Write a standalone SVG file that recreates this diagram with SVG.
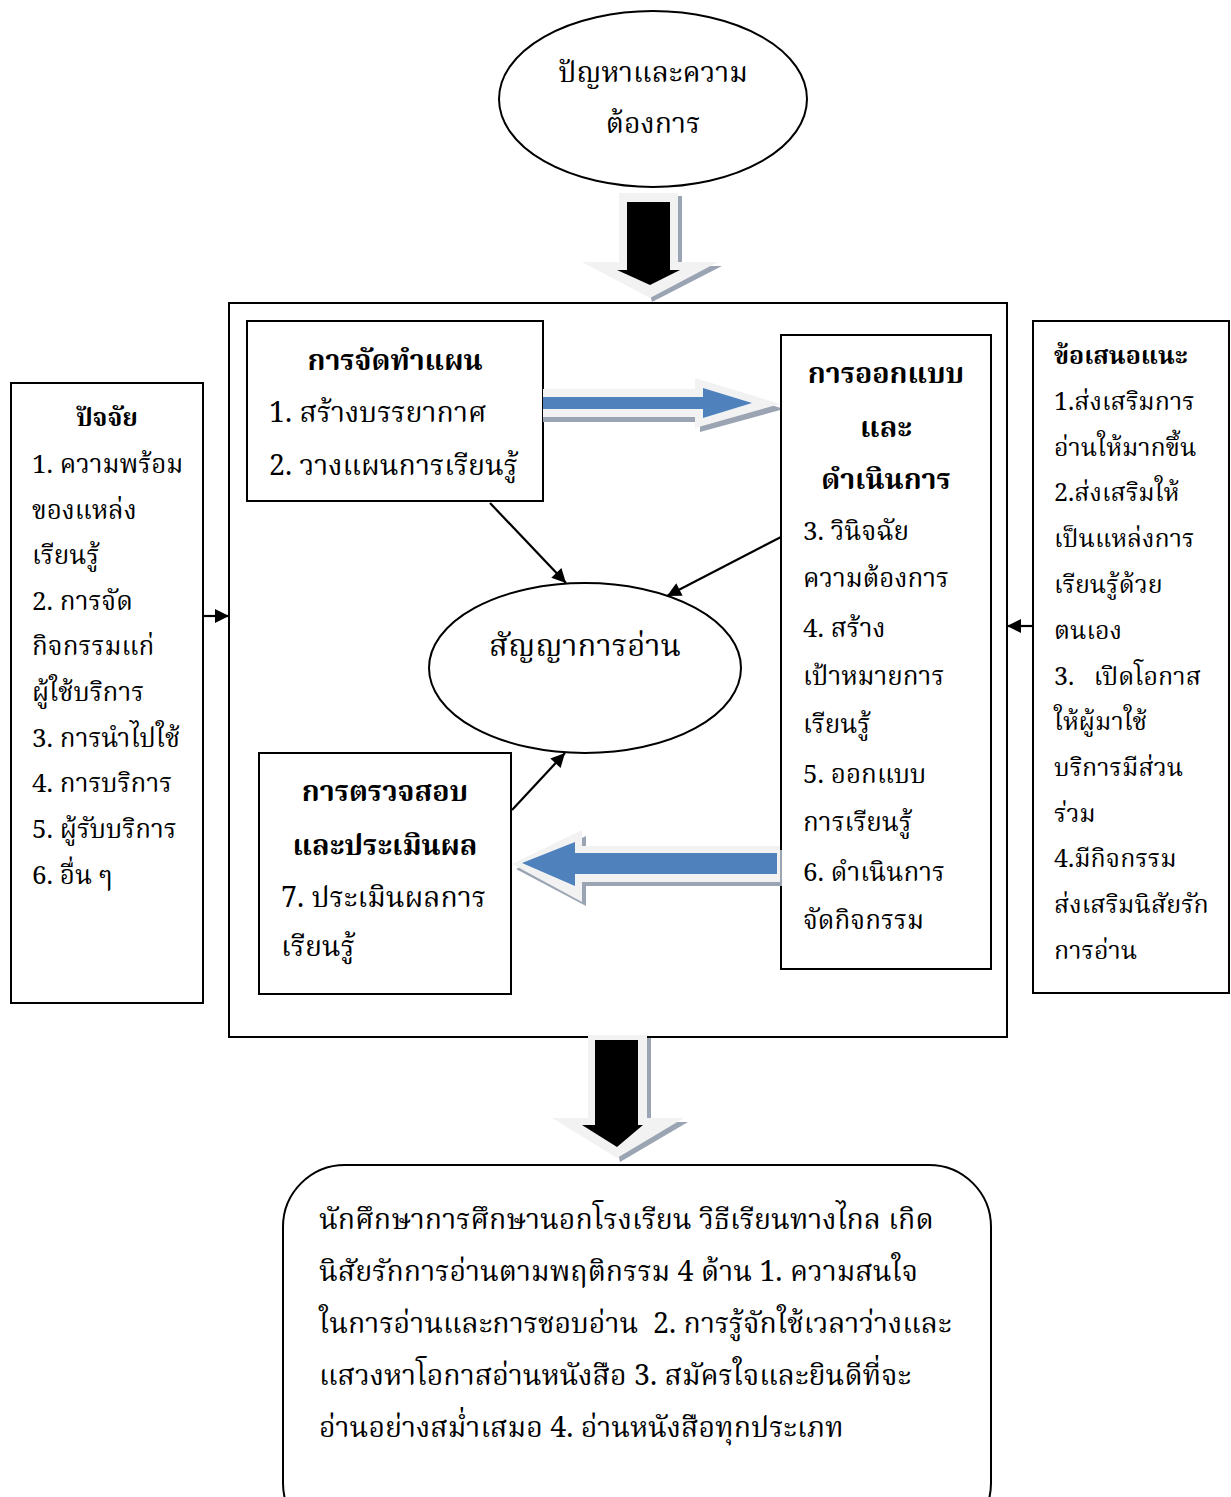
<svg xmlns="http://www.w3.org/2000/svg" width="1231" height="1497" viewBox="0 0 1231 1497">
<style>
.b{fill:#fff;stroke:#000;stroke-width:2}
.t{font-family:"Noto Serif Thai","Noto Sans Thai","Liberation Serif",serif;font-size:25px;fill:#000}
.l{font-size:28.5px}
.s{font-size:26px}
.h{font-weight:bold}
.m{text-anchor:middle}
.c{stroke:#000;stroke-width:2.2;fill:none}
.ol{fill:#f2f2f2}
.sh{fill:#9aa4b3}
.bl{fill:#4f81bd}
</style>
<defs>
<marker id="ah" viewBox="0 0 10 10" refX="10" refY="5" markerWidth="16" markerHeight="14" markerUnits="userSpaceOnUse" orient="auto"><path d="M0,0 L10,5 L0,10 Z" fill="#000"/></marker>
</defs>

<g id="problem">
<ellipse cx="653" cy="99" rx="154" ry="88" class="b"/>
<text class="t l m" x="653" y="82">ปัญหาและความ</text>
<text class="t l m" x="653" y="133">ต้องการ</text>
</g>

<g id="arrow-top">
<path class="sh" d="M623,196 H682 V266 H722 L652,302 Z"/>
<path class="ol" d="M619,193 H678 V262 H718 L650,298 L582,262 H619 Z"/>
<path fill="#000" d="M627,202 H670 V270 H680 L650,285 L617,270 H627 Z"/>
</g>

<g id="main-frame">
<rect x="229" y="303" width="778" height="734" fill="none" stroke="#000" stroke-width="2"/>
</g>

<g id="plan">
<rect x="247" y="321" width="296" height="180" class="b"/>
<text class="t l h m" x="395" y="370">การจัดทำแผน</text>
<text class="t l" x="269" y="422">1. สร้างบรรยากาศ</text>
<text class="t l" x="269" y="475">2. วางแผนการเรียนรู้</text>
</g>

<g id="arrow-right">
<path class="sh" d="M543,393 H698 V382 L784,409 L700,432 V422 H543 Z"/>
<path class="ol" d="M543,389 H695 V378 L780,404 L695,428 V417 H543 Z"/>
<path class="bl" d="M543,397 H703 V388 L752,403 L703,418 V409 H543 Z"/>
</g>

<g id="design">
<rect x="781" y="335" width="210" height="634" class="b"/>
<text class="t l h m" x="886" y="383">การออกแบบ</text>
<text class="t l h m" x="886" y="437">และ</text>
<text class="t l h m" x="886" y="489">ดำเนินการ</text>
<text class="t s" x="803" y="540">3. วินิจฉัย</text>
<text class="t s" x="803" y="587">ความต้องการ</text>
<text class="t s" x="803" y="637">4. สร้าง</text>
<text class="t s" x="803" y="685">เป้าหมายการ</text>
<text class="t s" x="803" y="733">เรียนรู้</text>
<text class="t s" x="803" y="783">5. ออกแบบ</text>
<text class="t s" x="803" y="831">การเรียนรู้</text>
<text class="t s" x="803" y="881">6. ดำเนินการ</text>
<text class="t s" x="803" y="929">จัดกิจกรรม</text>
</g>

<g id="contract">
<ellipse cx="585" cy="668" rx="156" ry="85" class="b"/>
<text class="t m" x="585" y="656" style="font-size:31px">สัญญาการอ่าน</text>
</g>

<g id="evaluate">
<rect x="259" y="753" width="252" height="241" class="b"/>
<text class="t l h m" x="385" y="801">การตรวจสอบ</text>
<text class="t l h m" x="385" y="855">และประเมินผล</text>
<text class="t l" x="281" y="907">7. ประเมินผลการ</text>
<text class="t l" x="281" y="956">เรียนรู้</text>
</g>

<g id="arrow-left">
<path class="sh" d="M782,850 H586 V836 L516,869 L586,906 V886 H782 Z"/>
<path class="ol" d="M780,846 H582 V830 L512,864 L582,902 V882 H780 Z"/>
<path class="bl" d="M777,853 H575 V842 L522,863 L575,886 V874 H777 Z"/>
</g>

<g id="factors">
<rect x="11" y="383" width="192" height="620" class="b"/>
<text class="t h m" x="107" y="426">ปัจจัย</text>
<text class="t s" x="32" y="473">1. ความพร้อม</text>
<text class="t s" x="32" y="519">ของแหล่ง</text>
<text class="t s" x="32" y="564">เรียนรู้</text>
<text class="t s" x="32" y="610">2. การจัด</text>
<text class="t s" x="32" y="655">กิจกรรมแก่</text>
<text class="t s" x="32" y="701">ผู้ใช้บริการ</text>
<text class="t s" x="32" y="747">3. การนำไปใช้</text>
<text class="t s" x="32" y="792">4. การบริการ</text>
<text class="t s" x="32" y="838">5. ผู้รับบริการ</text>
<text class="t s" x="32" y="884">6. อื่น ๆ</text>
</g>

<g id="suggestions">
<rect x="1033" y="321" width="196" height="672" class="b"/>
<text class="t h" x="1054" y="364">ข้อเสนอแนะ</text>
<text class="t" x="1054" y="410">1.ส่งเสริมการ</text>
<text class="t" x="1054" y="456">อ่านให้มากขึ้น</text>
<text class="t" x="1054" y="501">2.ส่งเสริมให้</text>
<text class="t" x="1054" y="547">เป็นแหล่งการ</text>
<text class="t" x="1054" y="593">เรียนรู้ด้วย</text>
<text class="t" x="1054" y="639">ตนเอง</text>
<text class="t" x="1054" y="685" xml:space="preserve">3.   เปิดโอกาส</text>
<text class="t" x="1054" y="730">ให้ผู้มาใช้</text>
<text class="t" x="1054" y="776">บริการมีส่วน</text>
<text class="t" x="1054" y="822">ร่วม</text>
<text class="t" x="1054" y="867">4.มีกิจกรรม</text>
<text class="t" x="1054" y="913">ส่งเสริมนิสัยรัก</text>
<text class="t" x="1054" y="959">การอ่าน</text>
</g>

<g id="arrow-bottom">
<path class="sh" d="M592,1038 H651 V1122 H688 L620,1162 Z"/>
<path class="ol" d="M588,1035 H647 V1118 H684 L617,1158 L552,1118 H588 Z"/>
<path fill="#000" d="M595,1040 H638 V1125 H643 L617,1147 L582,1125 H595 Z"/>
</g>

<g id="outcome">
<rect x="283" y="1165" width="708" height="380" rx="62" ry="62" class="b"/>
<text class="t l" x="319" y="1229">นักศึกษาการศึกษานอกโรงเรียน วิธีเรียนทางไกล เกิด</text>
<text class="t l" x="319" y="1281">นิสัยรักการอ่านตามพฤติกรรม 4 ด้าน 1. ความสนใจ</text>
<text class="t l" x="319" y="1333" xml:space="preserve">ในการอ่านและการชอบอ่าน  2. การรู้จักใช้เวลาว่างและ</text>
<text class="t l" x="319" y="1385">แสวงหาโอกาสอ่านหนังสือ 3. สมัครใจและยินดีที่จะ</text>
<text class="t l" x="319" y="1437">อ่านอย่างสม่ำเสมอ 4. อ่านหนังสือทุกประเภท</text>
</g>

<g id="connectors">
<line class="c" x1="490" y1="503" x2="566" y2="583" marker-end="url(#ah)"/>
<line class="c" x1="781" y1="537" x2="667" y2="596" marker-end="url(#ah)"/>
<line class="c" x1="512" y1="810" x2="565" y2="753" marker-end="url(#ah)"/>
<line class="c" x1="203" y1="616" x2="229" y2="616" marker-end="url(#ah)"/>
<line class="c" x1="1033" y1="626" x2="1007" y2="626" marker-end="url(#ah)"/>
</g>
</svg>
